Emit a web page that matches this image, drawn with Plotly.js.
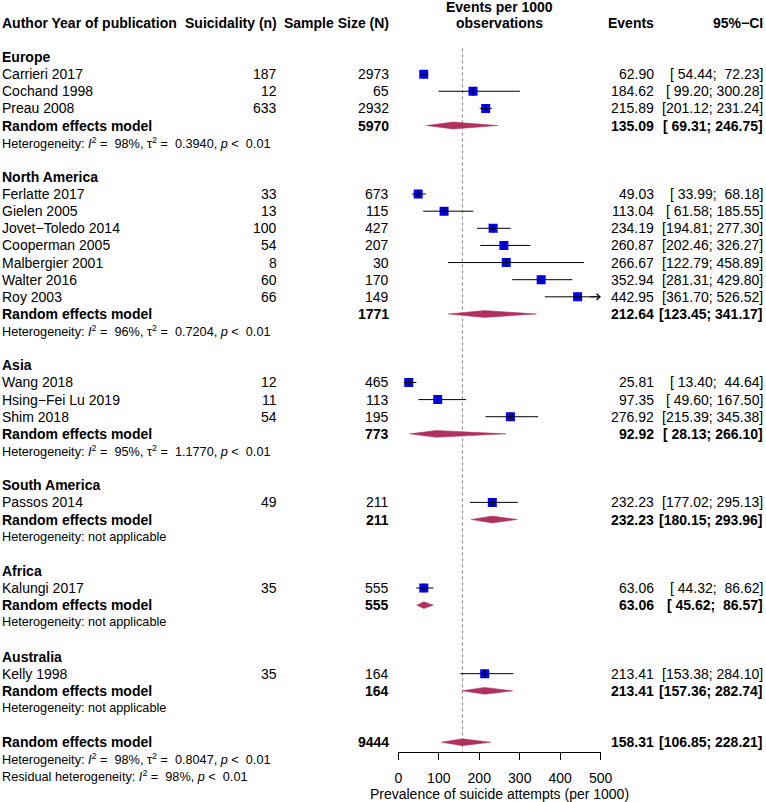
<!DOCTYPE html>
<html>
<head>
<meta charset="utf-8">
<script src="https://cdn.plot.ly/plotly-3.0.1.min.js"></script>
<style>html,body{margin:0;padding:0;background:#fff;}#chart{width:766px;height:802px;}</style>
</head>
<body>
<div id="chart"></div>
<script>
// ---------------- DATA ----------------
const regions = ["Europe", "North America", "Asia", "South America", "Africa", "Australia"];
const studyLabels = [
  "Carrieri 2017", "Cochand 1998", "Preau 2008",
  "Ferlatte 2017", "Gielen 2005", "Jovet\u2212Toledo 2014", "Cooperman 2005", "Malbergier 2001", "Walter 2016", "Roy 2003",
  "Wang 2018", "Hsing\u2212Fei Lu 2019", "Shim 2018",
  "Passos 2014",
  "Kalungi 2017",
  "Kelly 1998"
];
const studyRegion = [0,0,0, 1,1,1,1,1,1,1, 2,2,2, 3, 4, 5];
const suicidalityN = [187, 12, 633, 33, 13, 100, 54, 8, 60, 66, 12, 11, 54, 49, 35, 35];
const sampleN = [2973, 65, 2932, 673, 115, 427, 207, 30, 170, 149, 465, 113, 195, 211, 555, 164];
const studyEst = [62.90, 184.62, 215.89, 49.03, 113.04, 234.19, 260.87, 266.67, 352.94, 442.95, 25.81, 97.35, 276.92, 232.23, 63.06, 213.41];
const studyLower = [54.44, 99.20, 201.12, 33.99, 61.58, 194.81, 202.46, 122.79, 281.31, 361.70, 13.40, 49.60, 215.39, 177.02, 44.32, 153.38];
const studyUpper = [72.23, 300.28, 231.24, 68.18, 185.55, 277.30, 326.27, 458.89, 429.80, 526.52, 44.64, 167.50, 345.38, 295.13, 86.62, 284.10];

const regionN = [5970, 1771, 773, 211, 555, 164];
const regionEst = [135.09, 212.64, 92.92, 232.23, 63.06, 213.41];
const regionLower = [69.31, 123.45, 28.13, 180.15, 45.62, 157.36];
const regionUpper = [246.75, 341.17, 266.10, 293.96, 86.57, 282.74];
const regionI2 = ["98%", "96%", "95%", null, null, null];
const regionTau2 = ["0.3940", "0.7204", "1.1770", null, null, null];

const overallN = 9444;
const overallEst = 158.31;
const overallLower = 106.85;
const overallUpper = 228.21;
const overallI2 = "98%";
const overallTau2 = "0.8047";
const residualI2 = "98%";

const xTicks = [0, 100, 200, 300, 400, 500];
const headers = ["Author Year of publication", "Suicidality (n)", "Sample Size (N)", "Events per 1000", "observations", "Events", "95%\u2212CI"];
const xTitle = "Prevalence of suicide attempts (per 1000)";

// ---------------- LAYOUT CONSTANTS ----------------
const W = 766, H = 802;
const ROW0 = 57, ROWH = 17.13;           // pixel of first row, row height
const AXIS_PX = 751.7;                  // x-axis line pixel
const XL = 398.3, XR = 600.7;           // forest axis span in px
const XMIN = 0, XMAX = 500;
const FONT = "Liberation Sans, Arial, Helvetica, sans-serif";
const FS = 14, FS_HET = 12.7;
const BLUE = "#0000FF", DIAM = "#B03060";
const nbsp = "\u00a0";

const px2paper = p => p / W;
const axisRow = (AXIS_PX - ROW0) / ROWH;

function fmt2(v) { return v.toFixed(2); }
function pad(s, n) { while (s.length < n) s = nbsp + s; return s; }
function ciText(lo, hi) { return "[" + pad(fmt2(lo), 6) + ";" + nbsp + pad(fmt2(hi), 6) + "]"; }
const EQ = nbsp + "=" + nbsp + nbsp;
const LT = nbsp + "&lt;" + nbsp + nbsp;
function hetText(i2, tau2) {
  if (i2 === null) return "Heterogeneity: not applicable";
  return "Heterogeneity: <i>I</i><sup>2</sup>" + EQ + i2 + ", \u03c4<sup>2</sup>" + EQ + tau2 + ", <i>p</i>" + LT + "0.01";
}

const annotations = [];
function txt(xpx, row, text, anchor, opts) {
  opts = opts || {};
  annotations.push({
    xref: "paper", yref: "y", x: px2paper(xpx), y: row, text: text,
    xanchor: anchor, yanchor: "middle", showarrow: false,
    font: {family: FONT, size: opts.size || FS, color: "#000"}
  });
}

const COL_LABEL = 0, COL_n = 278.5, COL_N = 390.5, COL_EV = 655.5, COL_CI = 764.5, COL_MID = (XL + XR) / 2;

// headers
txt(COL_LABEL, -2, "<b>" + headers[0] + "</b>", "left");
txt(COL_n, -2, "<b>" + headers[1] + "</b>", "right");
txt(COL_N, -2, "<b>" + headers[2] + "</b>", "right");
txt(COL_MID, -2.94, "<b>" + headers[3] + "</b>", "center");
txt(COL_MID, -2, "<b>" + headers[4] + "</b>", "center");
txt(COL_EV, -2, "<b>" + headers[5] + "</b>", "right");
txt(COL_CI, -2, "<b>" + headers[6] + "</b>", "right");

// build rows
const sqX = [], sqY = [], ciX = [], ciY = [], tickX = [], tickY = [];
const diamonds = [];
const arrows = [];
let row = 0;
regions.forEach((reg, ri) => {
  txt(COL_LABEL, row, "<b>" + reg + "</b>", "left");
  row++;
  studyLabels.forEach((lab, si) => {
    if (studyRegion[si] !== ri) return;
    txt(COL_LABEL, row, lab, "left");
    txt(COL_n, row, String(suicidalityN[si]), "right");
    txt(COL_N, row, String(sampleN[si]), "right");
    txt(COL_EV, row, fmt2(studyEst[si]), "right");
    txt(COL_CI, row, ciText(studyLower[si], studyUpper[si]), "right");
    sqX.push(studyEst[si]); sqY.push(row);
    const hi = Math.min(studyUpper[si], XMAX);
    ciX.push(Math.max(studyLower[si], XMIN), hi, null); ciY.push(row, row, null);
    tickX.push(studyEst[si]); tickY.push(row);
    if (studyUpper[si] > XMAX) arrows.push(row);
    row++;
  });
  txt(COL_LABEL, row, "<b>Random effects model</b>", "left");
  txt(COL_N, row, "<b>" + regionN[ri] + "</b>", "right");
  txt(COL_EV, row, "<b>" + fmt2(regionEst[ri]) + "</b>", "right");
  txt(COL_CI, row, "<b>" + ciText(regionLower[ri], regionUpper[ri]) + "</b>", "right");
  diamonds.push({lo: regionLower[ri], est: regionEst[ri], hi: regionUpper[ri], row: row});
  row++;
  txt(COL_LABEL, row, hetText(regionI2[ri], regionTau2[ri]), "left", {size: FS_HET});
  row += 2;
});
// overall
txt(COL_LABEL, row, "<b>Random effects model</b>", "left");
txt(COL_N, row, "<b>" + overallN + "</b>", "right");
txt(COL_EV, row, "<b>" + fmt2(overallEst) + "</b>", "right");
txt(COL_CI, row, "<b>" + ciText(overallLower, overallUpper) + "</b>", "right");
diamonds.push({lo: overallLower, est: overallEst, hi: overallUpper, row: row});
txt(COL_LABEL, row + 1, hetText(overallI2, overallTau2), "left", {size: FS_HET});
txt(COL_LABEL, row + 2, "Residual heterogeneity: <i>I</i><sup>2</sup>" + EQ + residualI2 + ", <i>p</i>" + LT + "0.01", "left", {size: FS_HET});

arrows.forEach(r => {
  annotations.push({
    xref: "x", yref: "y", x: XMAX, y: r, axref: "pixel", ayref: "pixel", ax: -12, ay: 0,
    text: "", showarrow: true, arrowhead: 4, arrowsize: 1.2, arrowwidth: 1, arrowcolor: "#000", standoff: 0
  });
});

// ---------------- TRACES ----------------
const DH = 0.2; // diamond half-height in rows
const traces = [];
// reference dotted line
traces.push({
  x: [overallEst, overallEst], y: [-0.5, axisRow], mode: "lines",
  line: {color: "#808080", width: 1, dash: "dot"}, hoverinfo: "skip", showlegend: false
});
diamonds.forEach(d => {
  traces.push({
    x: [d.lo, d.est, d.hi, d.est, d.lo], y: [d.row, d.row - DH, d.row, d.row + DH, d.row],
    mode: "lines", fill: "toself", fillcolor: DIAM, line: {color: DIAM, width: 0.5},
    hoverinfo: "skip", showlegend: false
  });
});
traces.push({
  x: sqX, y: sqY, mode: "markers",
  marker: {symbol: "square", size: 9, color: BLUE, line: {width: 0}},
  hoverinfo: "skip", showlegend: false
});
traces.push({
  x: ciX, y: ciY, mode: "lines", line: {color: "#000", width: 1},
  hoverinfo: "skip", showlegend: false
});
traces.push({
  x: tickX, y: tickY, mode: "markers",
  marker: {symbol: "line-ns-open", size: 6, color: "#000", line: {color: "#000", width: 1}},
  hoverinfo: "skip", showlegend: false
});

const layout = {
  width: W, height: H,
  margin: {l: 0, r: 0, t: 0, b: 0},
  paper_bgcolor: "#fff", plot_bgcolor: "rgba(0,0,0,0)",
  font: {family: FONT, size: FS, color: "#000"},
  showlegend: false,
  xaxis: {
    domain: [px2paper(XL), px2paper(XR)], range: [XMIN, XMAX],
    anchor: "free", position: 1 - AXIS_PX / H,
    showline: true, linecolor: "#000", linewidth: 1,
    ticks: "outside", ticklen: 7, tickwidth: 1, tickcolor: "#000",
    tickmode: "array", tickvals: xTicks, ticktext: xTicks.map(String),
    tickfont: {family: FONT, size: FS, color: "#000"},
    ticklabelstandoff: 6,
    showgrid: false, zeroline: false, fixedrange: true,
    title: {text: xTitle, font: {family: FONT, size: FS, color: "#000"}, standoff: 4}
  },
  yaxis: {
    domain: [0, 1], range: [(H - ROW0) / ROWH, -ROW0 / ROWH],
    visible: false, showgrid: false, zeroline: false, fixedrange: true
  },
  annotations: annotations
};

Plotly.newPlot("chart", traces, layout, {displayModeBar: false, staticPlot: true});
</script>
</body>
</html>
